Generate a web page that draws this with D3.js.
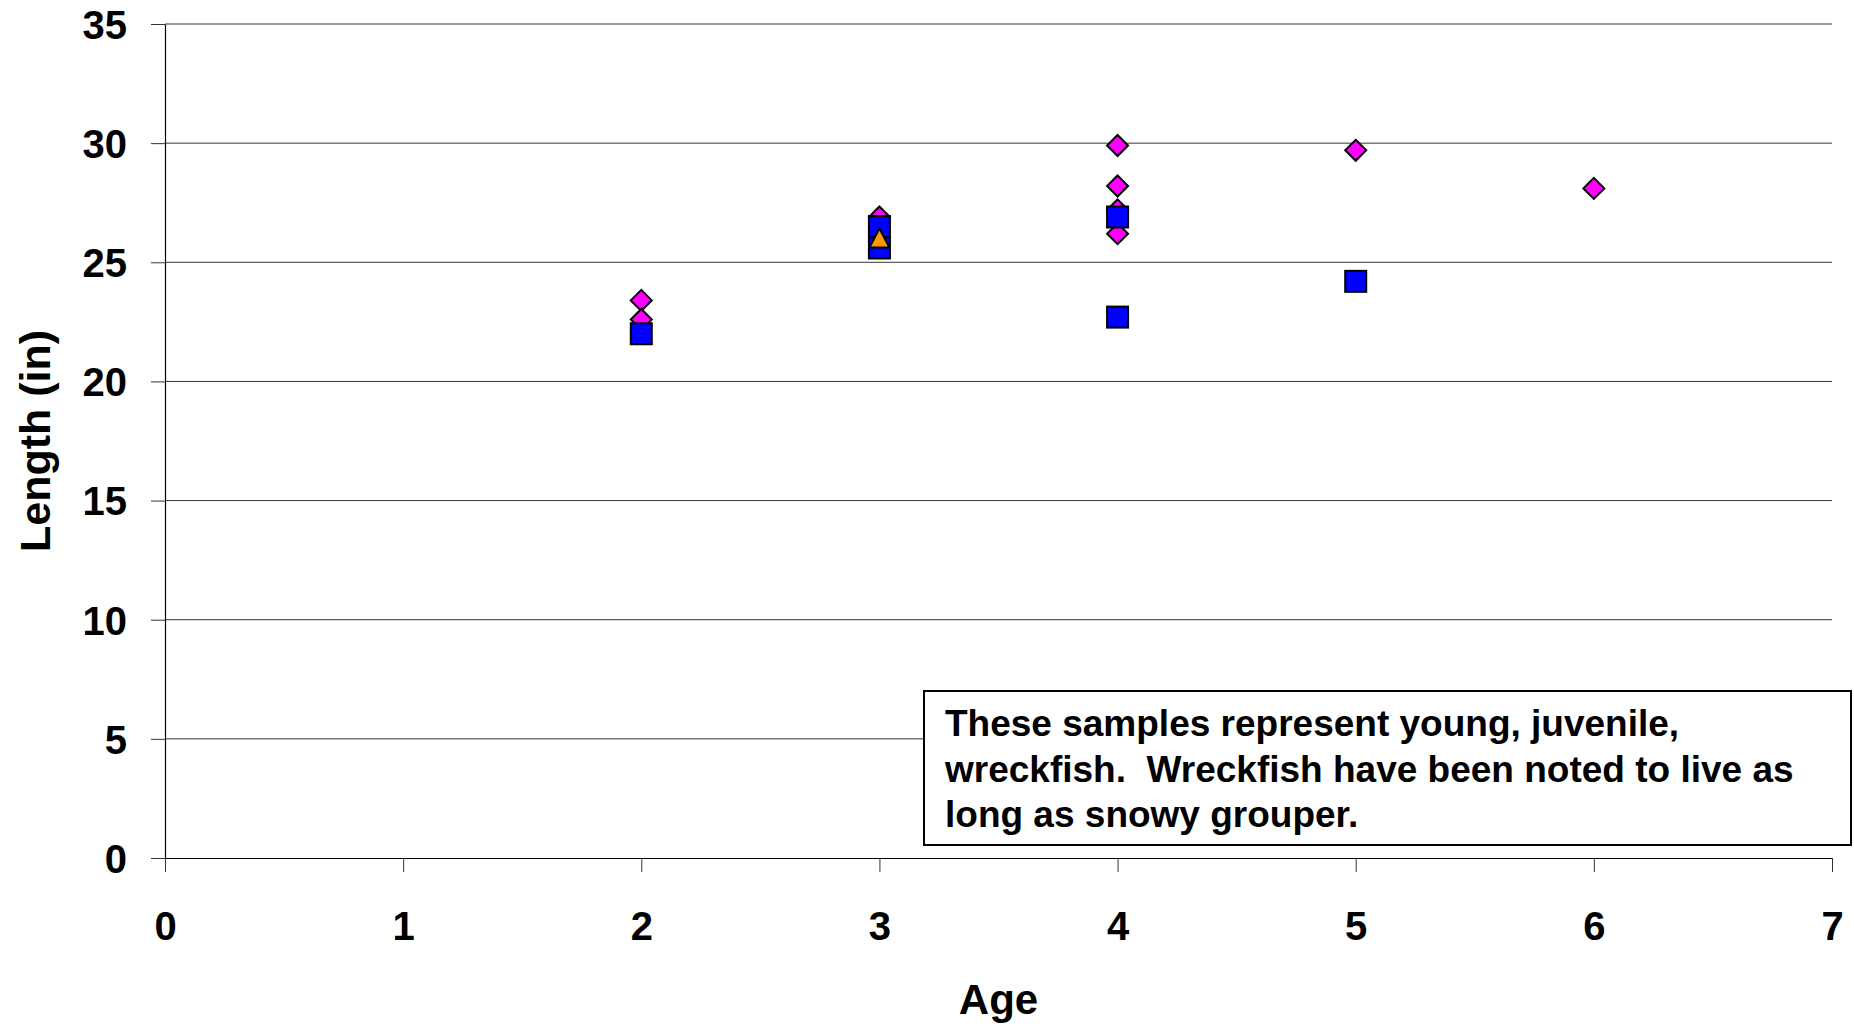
<!DOCTYPE html>
<html>
<head>
<meta charset="utf-8">
<script src="https://cdn.jsdelivr.net/npm/d3@7"></script>
<style>
  body { margin: 0; background: #fff; }
  svg text { font-family: "Liberation Sans", Arial, sans-serif; font-weight: bold; fill: #000; }
</style>
</head>
<body>
<svg id="chart" width="1854" height="1026"></svg>
<script>
// data (age in years, length in inches)
const diamonds = [
  [2, 23.4], [2, 22.6], [3, 26.9], [4, 29.9], [4, 28.2], [4, 27.2], [4, 26.2], [5, 29.7], [6, 28.1]
];
const squares = [
  [2, 22.0], [3, 26.5], [3, 25.6], [4, 26.9], [4, 22.7], [5, 24.2]
];
const triangles = [
  [3, 26.0]
];
const xTicks = [0, 1, 2, 3, 4, 5, 6, 7];
const yTicks = [0, 5, 10, 15, 20, 25, 30, 35];
const noteLines = [
  'These samples represent young, juvenile,',
  'wreckfish.  Wreckfish have been noted to live as',
  'long as snowy grouper.'
];

const plot = {left: 165, right: 1832, top: 24, bottom: 858};
const svg = d3.select('#chart');

const x = d3.scaleLinear().domain([0, 7]).range([plot.left, plot.right]);
const y = d3.scaleLinear().domain([0, 35]).range([plot.bottom, plot.top]);

// gridlines
svg.append('g')
  .selectAll('line')
  .data(yTicks.filter(d => d > 0))
  .join('line')
    .attr('x1', plot.left).attr('x2', plot.right)
    .attr('y1', d => y(d)).attr('y2', d => y(d))
    .attr('stroke', '#333').attr('stroke-width', 1);

// axes
const xAxis = svg.append('g')
  .attr('transform', `translate(0,${plot.bottom})`)
  .call(d3.axisBottom(x).tickValues(xTicks).tickFormat(d3.format('d'))
    .tickSize(14).tickPadding(40).tickSizeOuter(0));
const yAxis = svg.append('g')
  .attr('transform', `translate(${plot.left},0)`)
  .call(d3.axisLeft(y).tickValues(yTicks).tickFormat(d3.format('d'))
    .tickSize(14).tickPadding(24).tickSizeOuter(0));

[xAxis, yAxis].forEach(a => {
  a.select('.domain').attr('stroke', '#000').attr('stroke-width', 1.2);
  a.selectAll('.tick line').attr('stroke', '#333');
  a.selectAll('.tick text')
    .attr('font-family', '"Liberation Sans", Arial, sans-serif')
    .attr('font-weight', 'bold')
    .attr('font-size', 40)
    .attr('fill', '#000');
});
yAxis.selectAll('.tick text').attr('dy', '0.36em');

// axis titles
svg.append('text')
  .attr('x', (plot.left + plot.right) / 2)
  .attr('y', 1014)
  .attr('text-anchor', 'middle')
  .attr('font-size', 42)
  .text('Age');

svg.append('text')
  .attr('transform', `translate(50,${(plot.top + plot.bottom) / 2}) rotate(-90)`)
  .attr('text-anchor', 'middle')
  .attr('font-size', 43)
  .text('Length (in)');

// markers
const marks = svg.append('g');
const ds = 10.5;
marks.selectAll('.diamond')
  .data(diamonds)
  .join('path')
    .attr('class', 'diamond')
    .attr('d', d => `M${x(d[0])},${y(d[1]) - ds}L${x(d[0]) + ds},${y(d[1])}L${x(d[0])},${y(d[1]) + ds}L${x(d[0]) - ds},${y(d[1])}Z`)
    .attr('fill', '#ff00ff').attr('stroke', '#000').attr('stroke-width', 2);

const sq = 10.5;
marks.selectAll('.square')
  .data(squares)
  .join('rect')
    .attr('class', 'square')
    .attr('x', d => x(d[0]) - sq).attr('y', d => y(d[1]) - sq)
    .attr('width', sq * 2).attr('height', sq * 2)
    .attr('fill', '#0000ff').attr('stroke', '#000').attr('stroke-width', 2);

const tr = 10;
marks.selectAll('.triangle')
  .data(triangles)
  .join('path')
    .attr('class', 'triangle')
    .attr('d', d => `M${x(d[0])},${y(d[1]) - tr}L${x(d[0]) + tr},${y(d[1]) + tr * 0.9}L${x(d[0]) - tr},${y(d[1]) + tr * 0.9}Z`)
    .attr('fill', '#ff9900').attr('stroke', '#000').attr('stroke-width', 2);

// note box
const note = svg.append('g');
note.append('rect')
  .attr('x', 924).attr('y', 691)
  .attr('width', 927).attr('height', 154)
  .attr('fill', '#fff').attr('stroke', '#000').attr('stroke-width', 2);
note.append('text')
  .attr('font-size', 37)
  .style('white-space', 'pre')
  .selectAll('tspan')
  .data(noteLines)
  .join('tspan')
    .attr('x', 945)
    .attr('y', (d, i) => 736 + i * 45.5)
    .text(d => d);
</script>
</body>
</html>
